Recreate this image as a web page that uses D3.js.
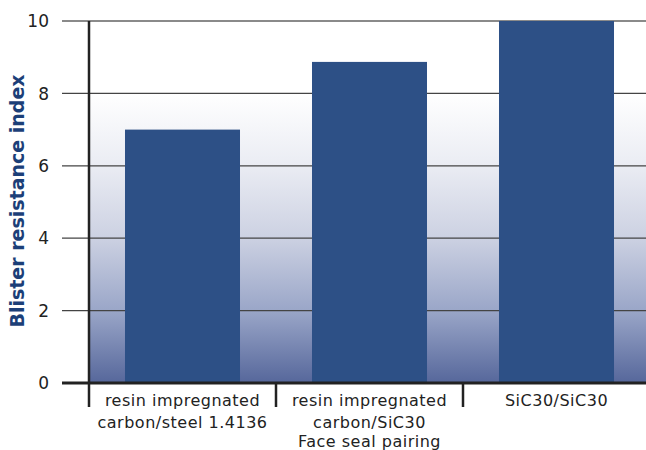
<!DOCTYPE html>
<html>
<head>
<meta charset="utf-8">
<script src="https://cdn.jsdelivr.net/npm/d3@7"></script>
<style>
  body { margin: 0; background: #fff; }
  svg { display: block; }
</style>
</head>
<body>
<svg id="chart"></svg>
<script>
// data
const categories = [
  ["resin impregnated", "carbon/steel 1.4136"],
  ["resin impregnated", "carbon/SiC30"],
  ["SiC30/SiC30"]
];
const values = [7, 8.87, 10];
const yTicks = [0, 2, 4, 6, 8, 10];
const yTitle = "Blister resistance index";
const xTitle = "Face seal pairing";

const width = 646;
const height = 450;

const svg = d3.select("#chart")
  .attr("width", width)
  .attr("height", height);

const x = d3.scaleBand()
  .domain(d3.range(categories.length))
  .range([89, 650])
  .paddingInner(0.385)
  .paddingOuter(0.1925);

const y = d3.scaleLinear()
  .domain([0, 10])
  .range([383, 21]);

// background gradient, white above the 8 line
const defs = svg.append("defs");
const grad = defs.append("linearGradient")
  .attr("id", "bg")
  .attr("x1", 0).attr("y1", 0).attr("x2", 0).attr("y2", 1);
[["0%", "#ffffff"], ["25%", "#eaecf3"], ["50%", "#ccd1e2"], ["75%", "#9aa6c8"], ["100%", "#56679b"]]
  .forEach(s => grad.append("stop").attr("offset", s[0]).attr("stop-color", s[1]));

svg.append("rect")
  .attr("x", x.range()[0])
  .attr("y", y(8))
  .attr("width", x.range()[1] - x.range()[0])
  .attr("height", y(0) - y(8))
  .attr("fill", "url(#bg)");

// gridlines
svg.append("g")
  .selectAll("line")
  .data(yTicks.filter(d => d > 0))
  .enter()
  .append("line")
  .attr("x1", 62)
  .attr("x2", width)
  .attr("y1", d => y(d))
  .attr("y2", d => y(d))
  .attr("stroke", d => d === 10 ? "#8a8a8a" : "#444")
  .attr("stroke-width", d => d === 10 ? 2 : 1.3);

// bars
svg.append("g")
  .selectAll("rect")
  .data(values)
  .enter()
  .append("rect")
  .attr("x", (d, i) => x(i))
  .attr("y", d => y(d))
  .attr("width", x.bandwidth())
  .attr("height", d => y(0) - y(d))
  .attr("fill", "#2d5086");

// y tick labels
svg.append("g")
  .selectAll("text")
  .data(yTicks)
  .enter()
  .append("text")
  .attr("x", 49)
  .attr("y", d => y(d))
  .attr("dy", "0.36em")
  .attr("text-anchor", "end")
  .attr("font-family", "'DejaVu Sans', sans-serif")
  .attr("font-size", 17)
  .attr("fill", "#222")
  .text(d => d);

// x axis line
svg.append("line")
  .attr("x1", 62).attr("x2", width)
  .attr("y1", y(0)).attr("y2", y(0))
  .attr("stroke", "#222")
  .attr("stroke-width", 3);

// y axis line
svg.append("line")
  .attr("x1", 89).attr("x2", 89)
  .attr("y1", y(10)).attr("y2", 407)
  .attr("stroke", "#222")
  .attr("stroke-width", 2.5);

// category separators
const step = x.step();
svg.append("g")
  .selectAll("line")
  .data(d3.range(1, categories.length))
  .enter()
  .append("line")
  .attr("x1", i => x.range()[0] + i * step)
  .attr("x2", i => x.range()[0] + i * step)
  .attr("y1", y(0))
  .attr("y2", 407)
  .attr("stroke", "#222")
  .attr("stroke-width", 2.5);

// category labels
const labels = svg.append("g")
  .selectAll("text")
  .data(categories)
  .enter()
  .append("text")
  .attr("x", (d, i) => x(i) + x.bandwidth() / 2)
  .attr("y", 406)
  .attr("text-anchor", "middle")
  .attr("font-family", "'DejaVu Sans', sans-serif")
  .attr("font-size", 16)
  .attr("letter-spacing", 0.5)
  .attr("fill", "#222");

labels.selectAll("tspan")
  .data(d => d)
  .enter()
  .append("tspan")
  .attr("x", function () { return d3.select(this.parentNode).attr("x"); })
  .attr("dy", (d, i) => i === 0 ? 0 : 22)
  .text(d => d);

// axis titles
svg.append("text")
  .attr("x", (x.range()[0] + x.range()[1]) / 2)
  .attr("y", 447)
  .attr("text-anchor", "middle")
  .attr("font-family", "'DejaVu Sans', sans-serif")
  .attr("font-size", 16)
  .attr("letter-spacing", 0.5)
  .attr("fill", "#222")
  .text(xTitle);

svg.append("text")
  .attr("transform", `translate(24, 201) rotate(-90)`)
  .attr("text-anchor", "middle")
  .attr("font-family", "'DejaVu Sans', sans-serif")
  .attr("font-weight", "bold")
  .attr("font-size", 19)
  .attr("fill", "#1c3f78")
  .text(yTitle);
</script>
</body>
</html>
